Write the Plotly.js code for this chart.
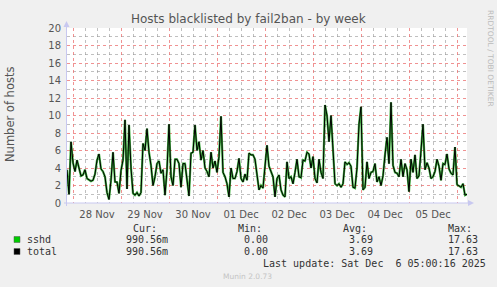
<!DOCTYPE html>
<html>
<head>
<meta charset="utf-8">
<script src="https://cdn.plot.ly/plotly-3.0.1.min.js"></script>
<style>
  html, body { margin: 0; padding: 0; background: #F0F0F0; }
  #chart { width: 497px; height: 287px; }
</style>
</head>
<body>
<div id="chart"></div>
<script>
// ---- data (hourly samples, Nov 27 21:00 -> Dec 6 05:00) ----
const startTime = '2025-11-27T21:00:00Z';
const stepHours = 1;
const sshd = [
  3.8, 1.0, 7.0, 4.6, 3.6, 4.9, 4.0, 3.1, 3.2, 3.8,
  2.8, 2.6, 2.5, 2.6, 3.3, 4.9, 5.6, 3.9, 3.6, 3.0,
  1.2, 0.4, 2.6, 5.8, 2.4, 2.4, 1.1, 3.7, 4.9, 9.5,
  1.6, 8.9, 4.0, 1.1, 0.9, 1.2, 0.8, 1.2, 6.8, 6.0,
  8.5, 5.8, 4.3, 2.0, 3.0, 4.5, 4.8, 3.4, 3.8, 0.9,
  3.8, 9.0, 3.0, 2.0, 5.0, 5.0, 4.5, 1.8, 4.5, 4.5,
  2.5, 0.8, 5.7, 5.8, 8.9, 6.0, 7.0, 4.9, 6.0, 4.0,
  3.6, 3.0, 5.8, 4.0, 4.8, 3.5, 5.3, 9.9, 3.5, 3.0,
  2.2, 0.7, 4.0, 2.8, 2.8, 3.6, 5.1, 2.8, 2.4, 3.3,
  2.6, 5.7, 5.5, 5.5, 5.0, 3.4, 1.5, 2.0, 1.7, 4.2,
  6.6, 4.2, 3.5, 3.0, 0.7, 2.8, 3.2, 1.5, 0.9, 0.7,
  4.7, 2.8, 3.0, 2.2, 3.5, 5.0, 3.0, 2.9, 4.9, 4.8,
  5.8, 5.6, 4.0, 5.3, 2.8, 2.3, 5.0, 3.5, 2.8, 11.2,
  10.0, 7.0, 10.0, 5.5, 2.2, 2.0, 2.2, 1.8, 2.2, 4.7,
  4.4, 4.6, 4.2, 1.8, 1.7, 4.0, 9.0, 11.0, 1.5, 1.8,
  4.7, 2.8, 3.5, 3.6, 4.5, 2.4, 3.0, 2.0, 3.1, 5.5,
  7.5, 4.5, 11.5, 4.3, 3.5, 3.4, 3.0, 5.0, 3.0, 4.5,
  3.8, 1.3, 5.0, 3.5, 5.5, 2.8, 3.1, 6.0, 9.0, 3.8,
  4.6, 4.0, 2.8, 3.0, 3.6, 5.0, 4.2, 2.6, 4.5, 4.4,
  5.6, 3.9, 3.4, 3.2, 6.4, 2.1, 1.9, 1.8, 2.2, 0.9,
  0.99
];
const total = sshd.slice();

const seriesNames = ['sshd', 'total'];
const seriesColors = ['#00CC00', '#000000'];
const legendHeaders = ['Cur:', 'Min:', 'Avg:', 'Max:'];
const legendRows = {
  sshd:  ['990.56m', '0.00', '3.69', '17.63'],
  total: ['990.56m', '0.00', '3.69', '17.63']
};
const titleText = 'Hosts blacklisted by fail2ban - by week';
const yTitle = 'Number of hosts';
const lastUpdate = 'Last update: Sat Dec\u00a0 6 05:00:16 2025';
const footer = 'Munin 2.0.73';
const sideText = 'RRDTOOL / TOBI OETIKER';

// ---- build ----
const t0 = Date.parse(startTime);
const times = sshd.map((_, i) => t0 + i * stepHours * 3600e3);

// pixel -> paper conversion (plot area: x 67..467, y 28..203)
const L = 67, R = 467, T = 28, B = 203;
const px = x => (x - L) / (R - L);
const py = y => (B - y) / (B - T);

const FONT = 'DejaVu Sans';
const MONO = 'DejaVu Sans Mono';
const TXT = '#333333';

function ann(text, x, y, o = {}) {
  return Object.assign({
    text, x: px(x), y: py(y), xref: 'paper', yref: 'paper',
    xanchor: 'left', yanchor: 'middle', showarrow: false,
    borderpad: 0,
    font: { family: MONO, size: 10, color: TXT }
  }, o);
}

const annotations = [
  ann(titleText, 248.5, 19, { xanchor: 'center', font: { family: FONT, size: 12, color: '#555555' } }),
  ann(yTitle, 10, 115, { xanchor: 'center', textangle: -90, font: { family: FONT, size: 11.5, color: '#555555' } }),
  ann(sideText, 490, 58, { xanchor: 'center', textangle: 90, font: { family: FONT, size: 7.5, color: '#BBBBBB' } }),
  ann(footer, 247.5, 276, { xanchor: 'center', font: { family: FONT, size: 7.5, color: '#C4C4C4' } }),
  ann(lastUpdate, 261.5, 263.5)
];
const headerX = [132, 237, 342, 447];
const valueX = [125, 243, 348, 447];
legendHeaders.forEach((h, i) => annotations.push(ann(h, headerX[i], 228)));
const rowY = [239.5, 251.5];
seriesNames.forEach((n, r) => {
  annotations.push(ann(n, 26, rowY[r]));
  legendRows[n].forEach((v, i) => annotations.push(ann(v, valueX[i], rowY[r])));
});

const AXC = '#C8C8F0';
const shapes = [
  // axis lines + arrows
  { type: 'line', xref: 'paper', yref: 'paper', x0: px(L - 0.5), x1: px(L - 0.5), y0: py(B + 3), y1: py(24), line: { color: AXC, width: 1 } },
  { type: 'line', xref: 'paper', yref: 'paper', x0: px(L - 3), x1: px(470), y0: py(B), y1: py(B), line: { color: AXC, width: 1 } },
  { type: 'path', xref: 'paper', yref: 'paper', fillcolor: AXC, line: { width: 0 },
    path: `M ${px(L - 3.5)} ${py(27)} L ${px(L - 0.5)} ${py(21)} L ${px(L + 2.5)} ${py(27)} Z` },
  { type: 'path', xref: 'paper', yref: 'paper', fillcolor: AXC, line: { width: 0 },
    path: `M ${px(468)} ${py(B - 3)} L ${px(474)} ${py(B)} L ${px(468)} ${py(B + 3)} Z` }
];
// legend swatches
rowY.forEach((y, r) => {
  shapes.push({ type: 'rect', xref: 'paper', yref: 'paper',
    x0: px(14), x1: px(20), y0: py(y - 3), y1: py(y + 3),
    fillcolor: seriesColors[r], line: { color: '#555555', width: 0.5 } });
});

const traces = [
  { x: times, y: sshd, name: 'sshd', type: 'scatter', mode: 'lines',
    line: { color: 'rgba(0,150,0,0.75)', width: 2.2 } },
  { x: times, y: total, name: 'total', type: 'scatter', mode: 'lines',
    line: { color: '#000000', width: 1 } }
];

const layout = {
  width: 497, height: 287,
  margin: { l: L, r: 497 - R, t: T, b: 287 - B, pad: 0 },
  paper_bgcolor: '#F0F0F0',
  plot_bgcolor: '#FFFFFF',
  showlegend: false,
  font: { family: FONT, size: 10, color: '#555555' },
  xaxis: {
    type: 'date',
    range: ['2025-11-27 21:00', '2025-12-06 05:00'],
    tick0: '2025-11-28 00:00', dtick: 86400000,
    ticklabelmode: 'period', tickformat: '%d %b',
    ticks: '', showline: false, zeroline: false,
    ticklabelstandoff: 4,
    tickfont: { family: FONT, size: 10, color: '#555555' },
    showgrid: true, gridcolor: 'rgba(235,110,110,0.75)', griddash: 'dot', gridwidth: 1,
    minor: { dtick: 6 * 3600000, tick0: '2025-11-28 00:00', showgrid: true,
             gridcolor: 'rgba(150,150,150,0.6)', griddash: 'dot', gridwidth: 1 }
  },
  yaxis: {
    range: [0, 20], dtick: 2, tick0: 0,
    ticks: '', showline: false, zeroline: false,
    ticklabelstandoff: 5,
    tickfont: { family: FONT, size: 10, color: '#555555' },
    showgrid: true, gridcolor: 'rgba(235,110,110,0.75)', griddash: 'dot', gridwidth: 1,
    minor: { dtick: 1, showgrid: true, gridcolor: 'rgba(150,150,150,0.6)', griddash: 'dot', gridwidth: 1 }
  },
  annotations, shapes
};

Plotly.newPlot('chart', traces, layout, { staticPlot: true, displayModeBar: false });
</script>
</body>
</html>
